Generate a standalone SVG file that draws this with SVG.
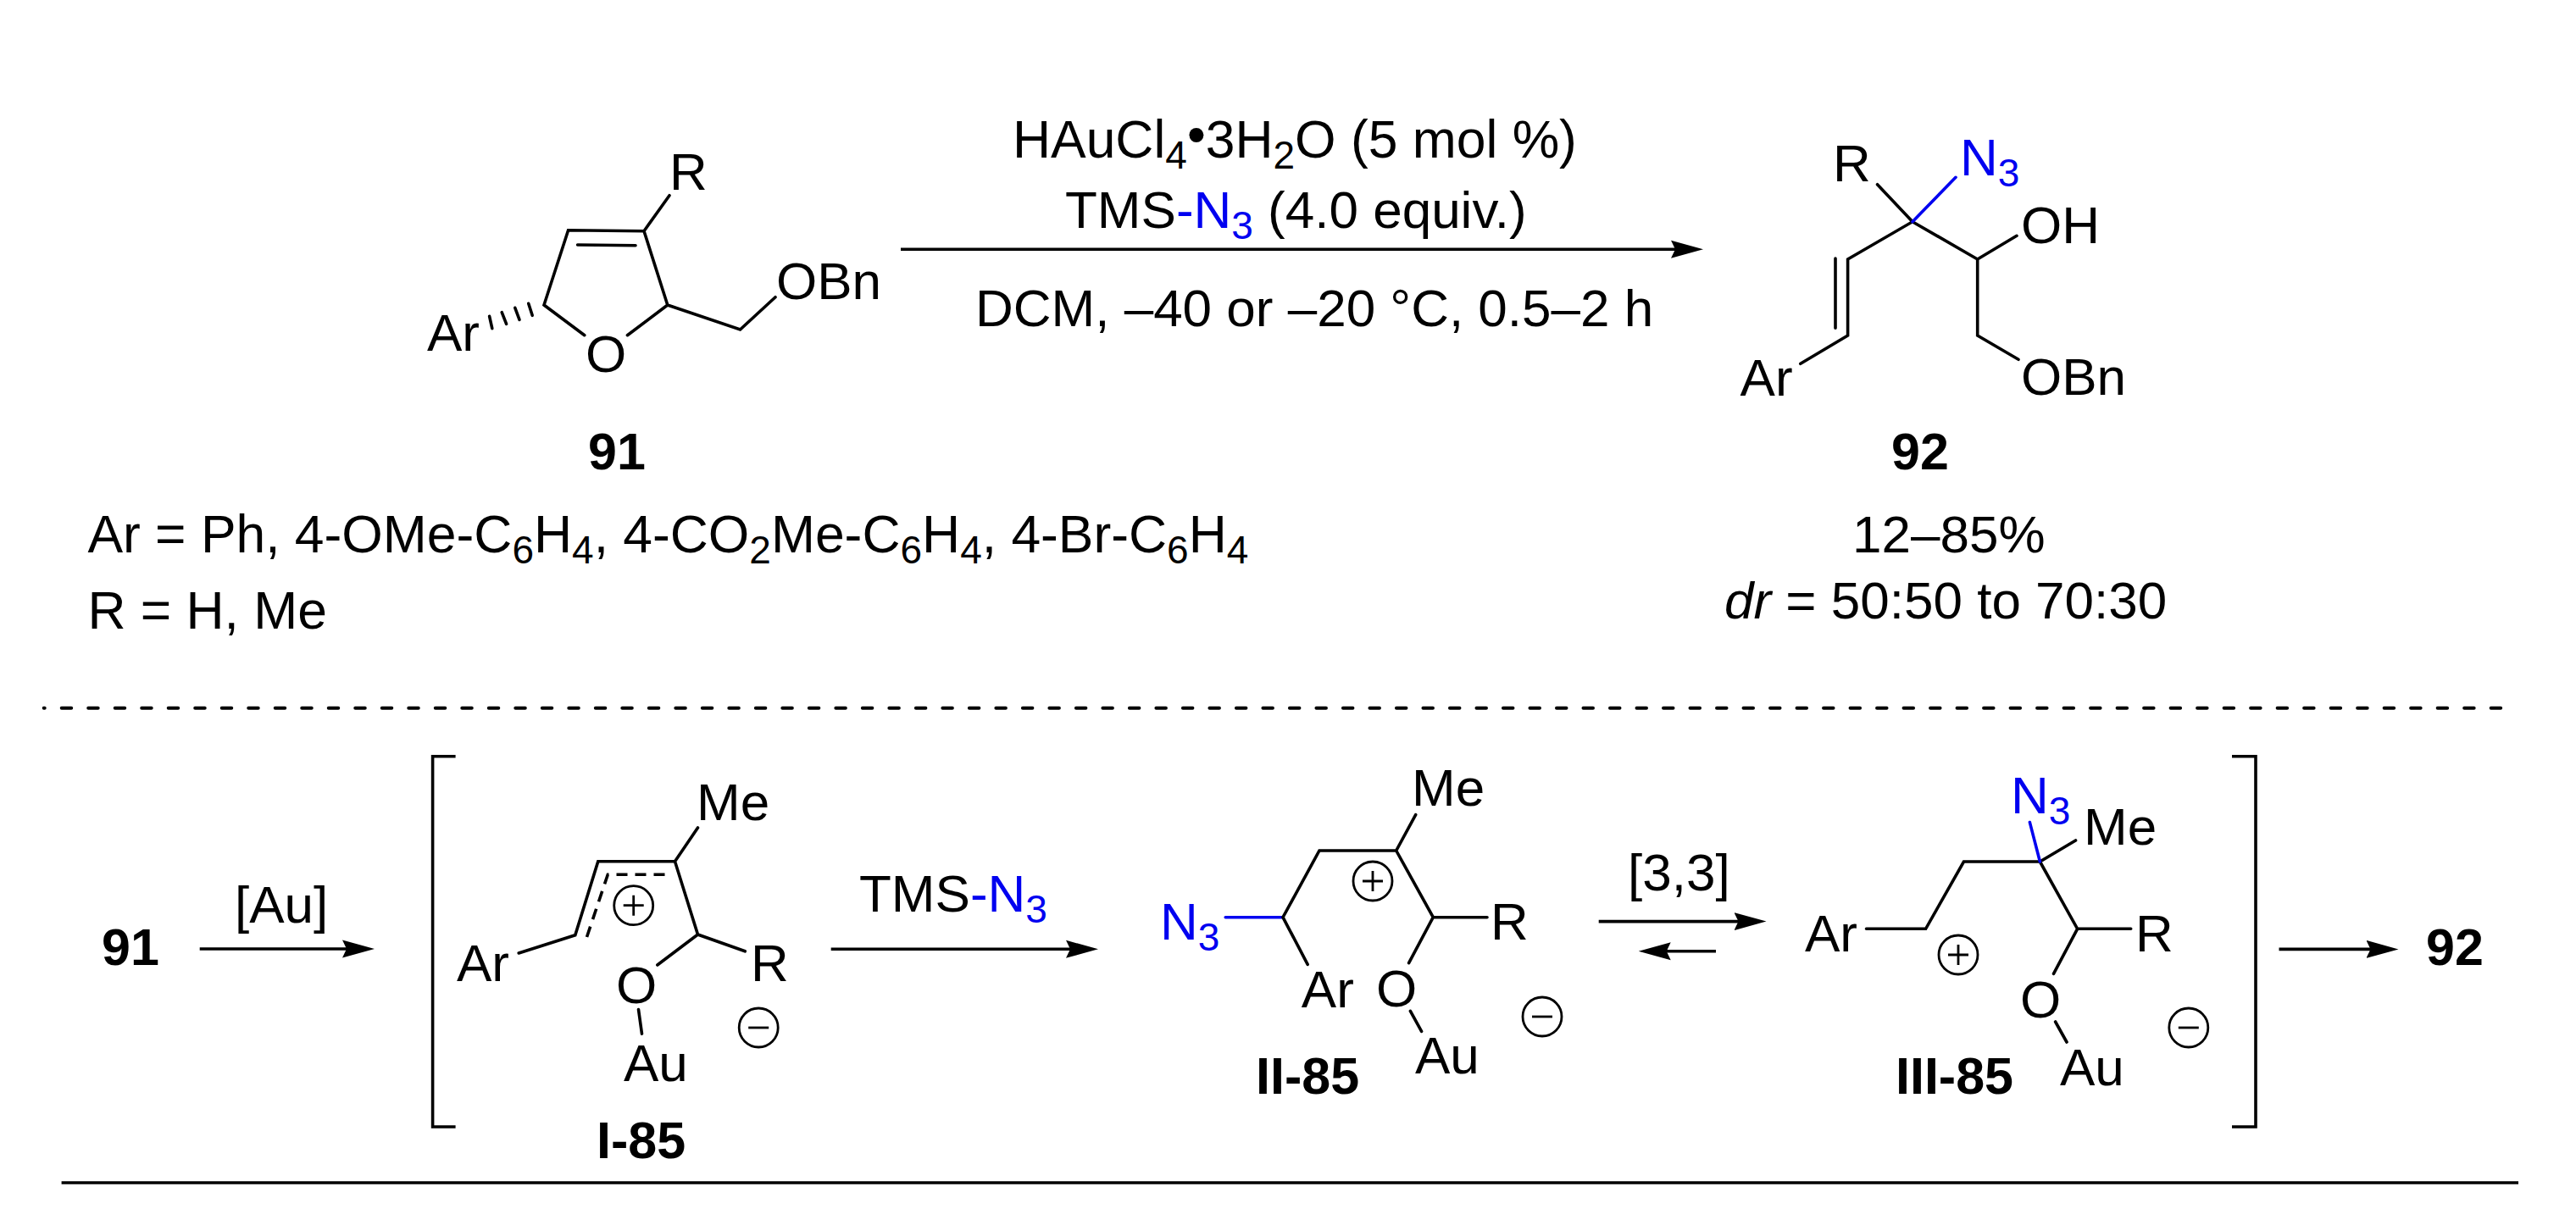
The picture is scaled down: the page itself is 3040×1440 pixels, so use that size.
<svg xmlns="http://www.w3.org/2000/svg" width="3040" height="1440" viewBox="0 0 3040 1440">
<style>
text{font-family:"Liberation Sans",Arial,sans-serif;font-size:62px;fill:#000}
.b{font-weight:700;font-size:61px}
.s{font-size:46px}
.n{fill:#0000f0}
.i{font-style:italic}
.w{font-size:62.4px}
.bond{fill:none;stroke:#000;stroke-width:3.6;stroke-linecap:round;stroke-linejoin:miter}
.blue{fill:none;stroke:#0000f0;stroke-width:3.6;stroke-linecap:round}
.dash{fill:none;stroke:#000;stroke-width:3.6;stroke-dasharray:13 9}
.arr{fill:none;stroke:#000;stroke-width:3.6;marker-end:url(#head)}
.brk{fill:none;stroke:#000;stroke-width:3.6}
.c{fill:none;stroke:#000;stroke-width:2.8}
</style>
<defs>
<marker id="head" markerUnits="userSpaceOnUse" markerWidth="40" markerHeight="24" viewBox="0 0 40 24" refX="26" refY="12" orient="auto">
<path d="M38,12 L0,1.5 L5,12 L0,22.5 Z" fill="#000"/>
</marker>
<g id="plus"><circle class="c" r="23"/><path class="c" d="M-12,0H12M0,-12V12"/></g>
<g id="minus"><circle class="c" r="23"/><path class="c" d="M-12,0H12"/></g>
</defs>
<rect width="3040" height="1440" fill="#fff"/>

<g id="connectors">
<path class="arr" d="M1063,294.3H1998"/>
<path class="arr" d="M235.7,1120H430"/>
<path class="arr" d="M980.7,1120.3H1284"/>
<path class="arr" d="M1886.7,1087.6H2072.5"/>
<path class="arr" d="M2025,1122.8H1945.7"/>
<path class="arr" d="M2689.5,1120.4H2818.5"/>
</g>

<g id="separators">
<path d="M51.7,835.7H2951.3" fill="none" stroke="#000" stroke-width="4" stroke-linecap="round" stroke-dasharray="11.5 20.005" stroke-dashoffset="10.5"/>
<path d="M72.6,1396H2972" fill="none" stroke="#000" stroke-width="3.6"/>
</g>

<g id="compound-91">
<path class="bond" d="M790,230.7L760,272.7L670.6,271.7L642,360L689.8,395.7M740.4,395.7L787.8,360L760,272.7M681.6,289L750,289.7M787.8,360L873.5,389L915,350.7"/>
<path class="bond" d="M580.8,387.7L577.6,373.3M597.6,382.3L592.2,368.7M613,377.3L607.8,363.3M628.2,372.3L623.7,358.3"/>
<text x="790" y="224">R</text>
<text x="691" y="439">O</text>
<text x="916" y="353">OBn</text>
<text x="504" y="414">Ar</text>
<text class="b" x="694" y="554">91</text>
</g>

<g id="conditions">
<text class="w" x="1195" y="185.7">HAuCl<tspan class="s" dy="13">4</tspan><tspan dy="-19">•</tspan><tspan dy="6">3H</tspan><tspan class="s" dy="13">2</tspan><tspan dy="-13">O (5 mol %)</tspan></text>
<text x="1257" y="269.3">TMS<tspan class="n">-N</tspan><tspan class="s n" dy="13">3</tspan><tspan dy="-13"> (4.0 equiv.)</tspan></text>
<text x="1151" y="385">DCM, –40 or –20 °C, 0.5–2 h</text>
</g>

<g id="compound-92">
<path class="bond" d="M2215.5,217.7L2257,261.7L2180.6,306V396L2124.8,429.3M2166,305V387.3M2257,261.7L2333.7,306L2380,278.3M2333.7,306V396L2382,424.3"/>
<path class="blue" d="M2257,261.7L2308,209.3"/>
<text x="2163" y="214">R</text>
<text class="n" x="2313" y="207">N<tspan class="s" dy="13">3</tspan></text>
<text x="2053.6" y="466.5">Ar</text>
<text x="2385" y="287">OH</text>
<text x="2385" y="466">OBn</text>
<text class="b" x="2232" y="554">92</text>
<text x="2186" y="652.3">12–85%</text>
<text x="2035" y="730"><tspan class="i">dr</tspan> = 50:50 to 70:30</text>
</g>

<g id="scope">
<text class="w" x="103.4" y="651.7">Ar = Ph, 4-OMe-C<tspan class="s" dy="13">6</tspan><tspan dy="-13">H</tspan><tspan class="s" dy="13">4</tspan><tspan dy="-13">, 4-CO</tspan><tspan class="s" dy="13">2</tspan><tspan dy="-13">Me-C</tspan><tspan class="s" dy="13">6</tspan><tspan dy="-13">H</tspan><tspan class="s" dy="13">4</tspan><tspan dy="-13">, 4-Br-C</tspan><tspan class="s" dy="13">6</tspan><tspan dy="-13">H</tspan><tspan class="s" dy="13">4</tspan></text>
<text class="w" x="103.4" y="741.7">R = H, Me</text>
</g>

<g id="step-91-label">
<text class="b" x="120" y="1139">91</text>
<text x="277" y="1089">[Au]</text>
</g>

<g id="brackets">
<path class="brk" d="M537.6,892.7H510.6V1330H537.6"/>
<path class="brk" d="M2634,892.7H2662V1330H2634"/>
</g>

<g id="intermediate-I-85">
<path class="bond" d="M823.5,977L796.5,1016.7H705.8L678.8,1103.8L612.2,1125M796.5,1016.7L823.5,1103L879.2,1122.8M823.5,1103L775.8,1139M753.5,1191.6L757.5,1220.2"/>
<path class="dash" d="M784.5,1032.2H717.3L691.5,1109"/>
<use href="#plus" x="747.7" y="1068.7"/>
<use href="#minus" x="895.2" y="1213"/>
<text x="822" y="968">Me</text>
<text x="539" y="1157.5">Ar</text>
<text x="727" y="1184">O</text>
<text x="736" y="1276">Au</text>
<text x="886" y="1158">R</text>
<text class="b" x="704" y="1367">I-85</text>
</g>

<g id="reagent-tms">
<text x="1014" y="1075.7">TMS<tspan class="n">-N</tspan><tspan class="s n" dy="13">3</tspan></text>
<text x="1921" y="1051" id="label-33">[3,3]</text>
</g>

<g id="intermediate-II-85">
<path class="blue" d="M1446.2,1082.7H1514"/>
<path class="bond" d="M1543.2,1138.3L1514,1082.7L1557,1004H1647.7L1670.7,961.7M1647.7,1004L1691.3,1082.7H1755M1691.3,1082.7L1662.6,1136.7M1664.4,1193.3L1677.6,1217.3"/>
<use href="#plus" x="1620" y="1040"/>
<use href="#minus" x="1820" y="1200"/>
<text class="n" x="1369" y="1109">N<tspan class="s" dy="13">3</tspan></text>
<text x="1666" y="951">Me</text>
<text x="1759" y="1109">R</text>
<text x="1535.8" y="1189">Ar</text>
<text x="1624" y="1188">O</text>
<text x="1670" y="1267.3">Au</text>
<text class="b" x="1482" y="1291">II-85</text>
</g>

<g id="intermediate-III-85">
<path class="bond" d="M2202.5,1096.3H2272.6L2317.5,1017H2407.4L2449.5,992M2407.4,1017L2451.6,1096.3H2514.7M2451.6,1096.3L2423.5,1149.3M2425.6,1206L2439,1230"/>
<path class="blue" d="M2407.4,1017L2395.4,970.6"/>
<use href="#plus" x="2311" y="1127"/>
<use href="#minus" x="2582.8" y="1213"/>
<text class="n" x="2373" y="960">N<tspan class="s" dy="13">3</tspan></text>
<text x="2459" y="997">Me</text>
<text x="2130" y="1122.8">Ar</text>
<text x="2520" y="1122.8">R</text>
<text x="2384" y="1201.3">O</text>
<text x="2431" y="1280.5">Au</text>
<text class="b" x="2237" y="1290.5">III-85</text>
</g>

<g id="product-label">
<text class="b" x="2863" y="1139">92</text>
</g>
</svg>
